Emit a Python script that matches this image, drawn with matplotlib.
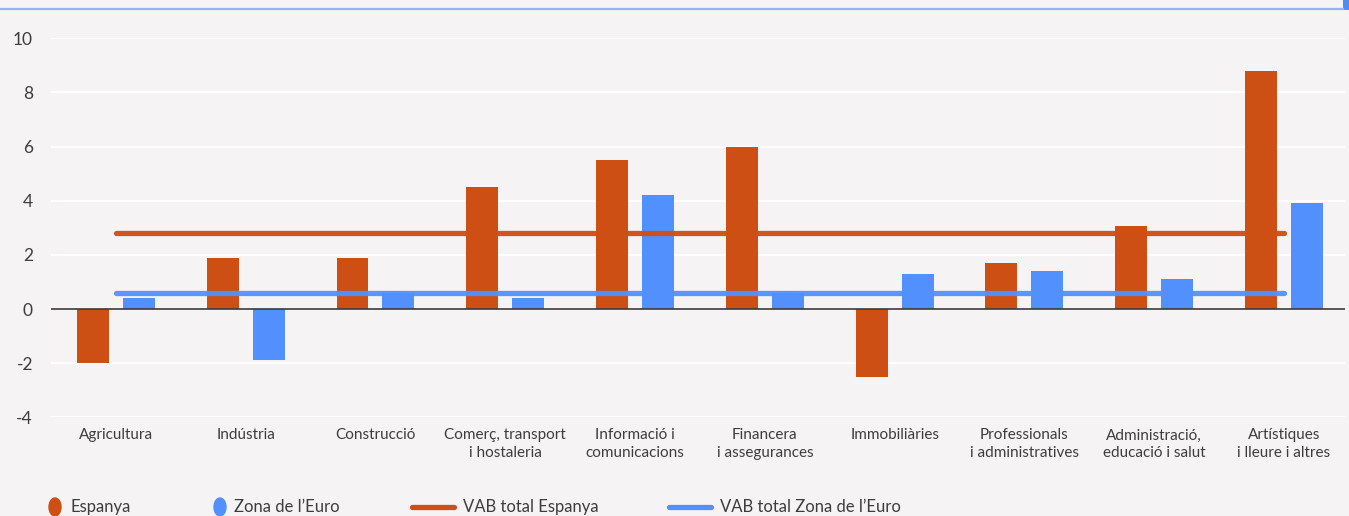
import matplotlib.pyplot as plt
from matplotlib.lines import Line2D
from matplotlib.patches import Ellipse
import numpy as np

categories = ["Agricultura", "Indústria", "Construcció", "Comerç, transport\ni hostaleria",
              "Informació i\ncomunicacions", "Financera\ni assegurances", "Immobiliàries",
              "Professionals\ni administratives", "Administració,\neducació i salut",
              "Artístiques\ni lleure i altres"]
espanya = [-2.0, 1.9, 1.9, 4.5, 5.5, 6.0, -2.5, 1.7, 3.05, 8.8]
zona_euro = [0.4, -1.9, 0.6, 0.4, 4.2, 0.6, 1.3, 1.4, 1.1, 3.9]
vab_espanya = 2.8
vab_euro = 0.6
yticks = [-4, -2, 0, 2, 4, 6, 8, 10]

ORANGE = "#cd4f13"
BLUE = "#5291fd"
BG = "#f5f3f4"
TXT = "#3d3d3d"

plt.rcParams['font.family'] = ['Lato', 'DejaVu Sans']

fig = plt.figure(figsize=(13.49, 5.16), dpi=100, facecolor=BG)
ax = fig.add_axes([51 / 1349, 1 - 417.3 / 516, (1345 - 51) / 1349, (417.3 - 38.3) / 516])
ax.set_facecolor(BG)

x = np.arange(len(categories))
w = 0.246
off = 0.177
ax.bar(x - off, espanya, w, color=ORANGE, zorder=2)
ax.bar(x + off, zona_euro, w, color=BLUE, zorder=2)

ax.plot([x[0], x[-1]], [vab_espanya] * 2, color=ORANGE, lw=3.8, alpha=0.95,
        solid_capstyle='round', zorder=3)
ax.plot([x[0], x[-1]], [vab_euro] * 2, color=BLUE, lw=3.8, alpha=0.95,
        solid_capstyle='round', zorder=3)

ax.set_xlim(-0.5, 9.47)
ax.set_ylim(-4, 10)
ax.set_yticks(yticks)
ax.set_yticklabels([str(t) for t in yticks], fontsize=12.5, color=TXT)
ax.set_xticks(x)
ax.set_xticklabels(categories, fontsize=11, color=TXT, linespacing=1.35)
ax.tick_params(axis='both', length=0)
ax.tick_params(axis='y', pad=13)
ax.tick_params(axis='x', pad=8)

ax.grid(axis='y', color='white', lw=1.6, zorder=0)
ax.axhline(0, color='#3a3a3a', lw=1.2, zorder=2.5)
for s in ax.spines.values():
    s.set_visible(False)

# top frame line
fig.add_artist(Line2D([0, 1343 / 1349], [1 - 8.5 / 516] * 2, color="#8fb4f7", lw=1.6,
                      transform=fig.transFigure))
fig.add_artist(plt.Rectangle((1343 / 1349, 1 - 9.5 / 516), 6 / 1349, 9.5 / 516,
                             color="#4d8ef5", transform=fig.transFigure, lw=0))

# legend
ly = 1 - 507 / 516
for cx, col in [(55, ORANGE), (220, BLUE)]:
    fig.add_artist(Ellipse((cx / 1349, ly), 12 / 1349, 18 / 516, color=col,
                           transform=fig.transFigure))
for x0, col in [(412, ORANGE), (669, BLUE)]:
    fig.add_artist(Line2D([x0 / 1349, (x0 + 42) / 1349], [ly] * 2, color=col, lw=3.8,
                          solid_capstyle='round', transform=fig.transFigure))
for tx, label in [(70, "Espanya"), (234, "Zona de l’Euro"), (463, "VAB total Espanya"),
                  (720, "VAB total Zona de l’Euro")]:
    fig.text(tx / 1349, ly, label, fontsize=12, color=TXT, va='center', ha='left')

fig.savefig("out.png", dpi=100, facecolor=BG)
